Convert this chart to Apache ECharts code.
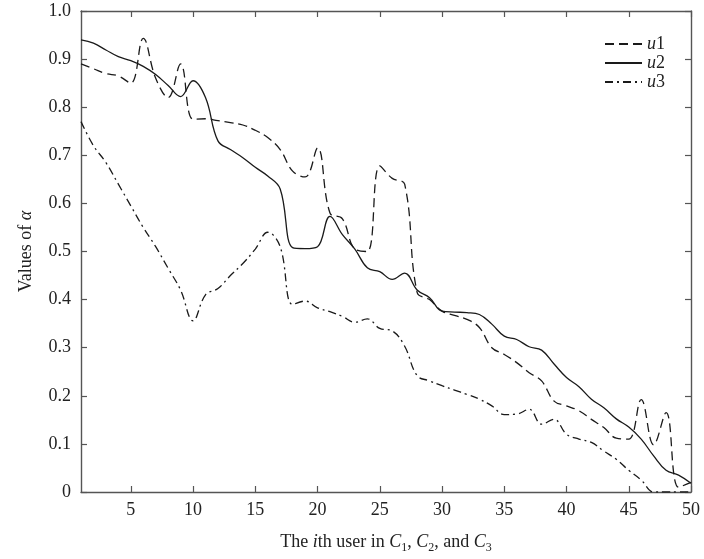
<!DOCTYPE html>
<html>
<head>
<meta charset="utf-8">
<script src="https://cdn.jsdelivr.net/npm/echarts@6/dist/echarts.min.js"></script>
<style>
html,body{margin:0;padding:0;background:#fff;}
#chart{width:704px;height:559px;}
</style>
</head>
<body>
<div id="chart"></div>
<script>
var users = [1,2,3,4,5,6,7,8,9,10,11,12,13,14,15,16,17,18,19,20,21,22,23,24,25,26,27,28,29,30,31,32,33,34,35,36,37,38,39,40,41,42,43,44,45,46,47,48,49,50];
var u1 = [0.890,0.880,0.870,0.865,0.850,0.943,0.860,0.820,0.890,0.775,0.776,0.772,0.768,0.763,0.752,0.737,0.712,0.667,0.655,0.715,0.580,0.568,0.505,0.500,0.678,0.652,0.640,0.415,0.400,0.376,0.367,0.359,0.342,0.300,0.286,0.269,0.248,0.231,0.189,0.179,0.169,0.151,0.134,0.112,0.110,0.192,0.098,0.165,0.010,0.020];
var u2 = [0.940,0.933,0.919,0.905,0.897,0.885,0.868,0.845,0.822,0.855,0.820,0.730,0.712,0.695,0.675,0.657,0.630,0.508,0.506,0.510,0.573,0.535,0.505,0.466,0.458,0.442,0.455,0.420,0.404,0.376,0.374,0.373,0.369,0.349,0.324,0.317,0.302,0.295,0.266,0.238,0.219,0.193,0.175,0.152,0.135,0.110,0.075,0.045,0.035,0.018];
var u3 = [0.770,0.720,0.685,0.640,0.595,0.550,0.510,0.465,0.420,0.356,0.410,0.423,0.450,0.475,0.505,0.540,0.510,0.390,0.397,0.383,0.375,0.365,0.353,0.360,0.340,0.335,0.303,0.242,0.231,0.221,0.212,0.203,0.193,0.179,0.161,0.162,0.172,0.141,0.151,0.120,0.110,0.103,0.085,0.068,0.045,0.025,0.000,0.000,0.000,0.000];
var xTicks = [5,10,15,20,25,30,35,40,45,50];
var seriesNames = ['u1','u2','u3'];

function pairs(arr){ return users.map(function(x,i){ return [x, arr[i]]; }); }

var font = '"Liberation Serif", "Times New Roman", serif';
var axisColor = '#555';
var lineColor = '#1a1a1a';

var chart = echarts.init(document.getElementById('chart'), null, {renderer:'canvas'});
var baseX = {
  type:'value', min:1, max:50,
  axisLine:{show:true, onZero:false, lineStyle:{color:axisColor, width:1.4}},
  axisTick:{show:true, inside:true, length:6, customValues:xTicks, lineStyle:{color:axisColor, width:1.2}},
  splitLine:{show:false}
};
var baseY = {
  type:'value', min:0, max:1, interval:0.1,
  axisLine:{show:true, onZero:false, lineStyle:{color:axisColor, width:1.4}},
  axisTick:{show:true, inside:true, length:6, lineStyle:{color:axisColor, width:1.2}},
  splitLine:{show:false}
};
var option = {
  backgroundColor:'#fff',
  animation:false,
  grid:{left:81, right:13, top:11, bottom:66, containLabel:false},
  xAxis:[
    Object.assign({}, baseX, {
      position:'bottom',
      axisLabel:{show:true, customValues:xTicks, margin:9, color:'#222', fontFamily:font, fontSize:18},
      name:'The {i|i}th user in {i|C}{sub|1}, {i|C}{sub|2}, and {i|C}{sub|3}',
      nameLocation:'middle', nameGap:38,
      nameTextStyle:{color:'#222', fontFamily:font, fontSize:18, lineHeight:24,
        rich:{
          i:{fontStyle:'italic', fontFamily:font, fontSize:18, color:'#222', lineHeight:24},
          sub:{fontFamily:font, fontSize:12, color:'#222', lineHeight:12, verticalAlign:'bottom'}
        }}
    }),
    Object.assign({}, baseX, {position:'top', axisLabel:{show:false}})
  ],
  yAxis:[
    Object.assign({}, baseY, {
      position:'left',
      axisLabel:{show:true, margin:10, color:'#222', fontFamily:font, fontSize:18,
        formatter:function(v){ return v === 0 ? '0' : v.toFixed(1); }},
      name:'Values of {i|α}',
      nameLocation:'middle', nameGap:46, nameRotate:90,
      nameTextStyle:{color:'#222', fontFamily:font, fontSize:18,
        rich:{ i:{fontStyle:'italic', fontFamily:font, fontSize:18, color:'#222'} }}
    }),
    Object.assign({}, baseY, {position:'right', axisLabel:{show:false}})
  ],
  legend:{
    orient:'vertical', right:34, top:30,
    itemWidth:37, itemHeight:10, itemGap:1,
    data:seriesNames,
    itemStyle:{opacity:0},
    formatter:function(n){ return '{i|u}' + n.slice(1); },
    textStyle:{color:'#222', fontFamily:font, fontSize:18, lineHeight:18,
      rich:{ i:{fontStyle:'italic', fontFamily:font, fontSize:18, color:'#222', lineHeight:18} }}
  },
  series:[
    {name:'u1', type:'line', data:pairs(u1), smooth:0.4, symbol:'none', showSymbol:false,
      lineStyle:{color:lineColor, width:1.3, type:[9,5]}, itemStyle:{color:lineColor}},
    {name:'u2', type:'line', data:pairs(u2), smooth:0.4, symbol:'none', showSymbol:false,
      lineStyle:{color:lineColor, width:1.3, type:'solid'}, itemStyle:{color:lineColor}},
    {name:'u3', type:'line', data:pairs(u3), smooth:0.4, symbol:'none', showSymbol:false,
      lineStyle:{color:lineColor, width:1.3, type:[8,4,2,4]}, itemStyle:{color:lineColor}}
  ]
};
chart.setOption(option);
</script>
</body>
</html>
